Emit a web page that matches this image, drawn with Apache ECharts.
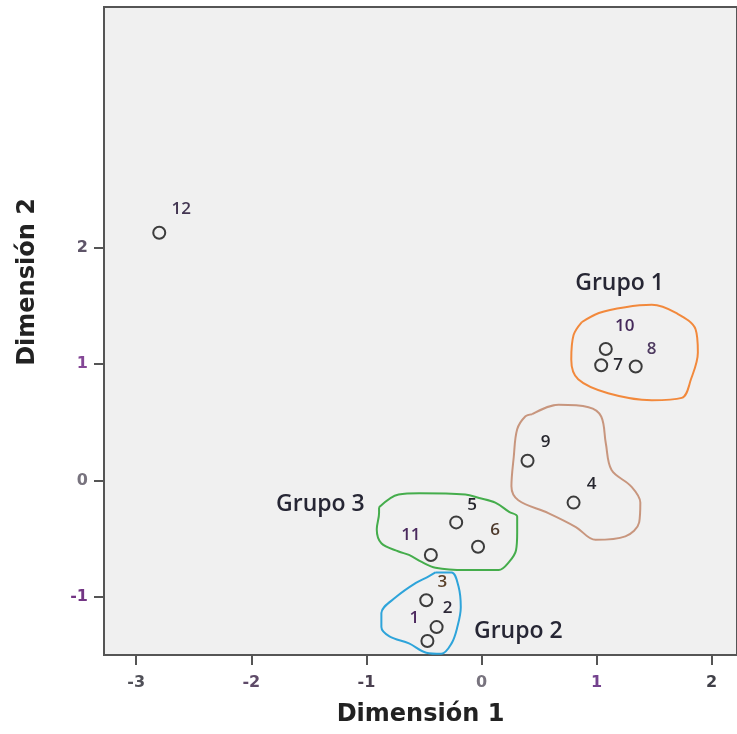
<!DOCTYPE html>
<html>
<head>
<meta charset="utf-8">
<script src="https://cdn.jsdelivr.net/npm/echarts@6/dist/echarts.min.js"></script>
<style>html,body{margin:0;padding:0;background:#fff}#main{width:737px;height:734px}</style>
</head>
<body>
<div id="main"></div>
<script>
// puntos (coordenadas en dimensión 1 / dimensión 2)
var pointNames = ['1', '2', '3', '4', '5', '6', '7', '8', '9', '10', '11', '12'];
var dim1 = [-0.47, -0.39, -0.48, 0.80, -0.22, -0.03, 1.04, 1.34, 0.40, 1.08, -0.44, -2.80];
var dim2 = [-1.38, -1.26, -1.03, -0.19, -0.36, -0.57, 0.99, 0.98, 0.17, 1.13, -0.64, 2.13];

// marcas de los ejes
var xTicks = [-3, -2, -1, 0, 1, 2];
var yTicks = [-1, 0, 1, 2];

// contornos de los grupos (dibujados a mano en el original)
var grupo1Outline = [[0.87, 1.36], [1.02, 1.44], [1.25, 1.49], [1.48, 1.51], [1.69, 1.44], [1.86, 1.30], [1.88, 1.10],
  [1.82, 0.87], [1.74, 0.71], [1.48, 0.69], [1.10, 0.75], [0.84, 0.87], [0.78, 1.04], [0.80, 1.25], [0.87, 1.36]];
var grupo4Outline = [[0.44, 0.57], [0.67, 0.65], [0.93, 0.63], [1.04, 0.55], [1.08, 0.32], [1.13, 0.09], [1.30, -0.05],
  [1.38, -0.19], [1.37, -0.36], [1.25, -0.48], [0.99, -0.51], [0.82, -0.40], [0.58, -0.28], [0.32, -0.17], [0.26, -0.05],
  [0.28, 0.20], [0.31, 0.44], [0.38, 0.55], [0.44, 0.57]];
var grupo3Outline = [[-0.89, -0.23], [-0.72, -0.12], [-0.54, -0.11], [-0.14, -0.12], [-0.02, -0.15], [0.12, -0.19],
  [0.24, -0.27], [0.31, -0.31], [0.31, -0.45], [0.30, -0.60], [0.24, -0.70], [0.15, -0.77], [-0.14, -0.77],
  [-0.40, -0.75], [-0.52, -0.70], [-0.63, -0.64], [-0.72, -0.61], [-0.87, -0.54], [-0.91, -0.42], [-0.89, -0.28], [-0.89, -0.23]];
var grupo2Outline = [[-0.40, -0.79], [-0.26, -0.79], [-0.20, -0.91], [-0.18, -1.09], [-0.21, -1.26], [-0.26, -1.40],
  [-0.35, -1.49], [-0.48, -1.48], [-0.63, -1.40], [-0.80, -1.34], [-0.87, -1.26], [-0.87, -1.14], [-0.74, -1.00],
  [-0.57, -0.88], [-0.47, -0.83], [-0.40, -0.79]];

var groupNames = ['Grupo 1', 'Grupo 2', 'Grupo 3'];
var groupX = [1.20, 0.32, -1.40];
var groupY = [1.69, -1.30, -0.21];

// desplazamiento de cada etiqueta respecto a su punto (px)
var labelOffsets = [[-13, -23], [11, -19], [16, -18], [18, -18], [16, -17], [17, -17], [17, 0], [16, -17],
  [18, -19], [19, -23], [-20, -20], [22, -24]];
var labelColors = ['#4e2a60', '#2d2838', '#5a4028', '#26262e', '#26262e', '#4e3a2c', '#26262e', '#4e3a60',
  '#26262e', '#44285a', '#4a2a5e', '#433652'];

var xLabelColors = { '-3': '#505058', '-2': '#5e4a68', '-1': '#4a4050', '0': '#78737e', '1': '#74428e', '2': '#404048' };
var yLabelColors = { '-1': '#733584', '0': '#78737e', '1': '#844796', '2': '#5e5468' };

var chart = echarts.init(document.getElementById('main'));

var pointData = pointNames.map(function (n, i) {
  return {
    name: n,
    value: [dim1[i], dim2[i]],
    label: { offset: labelOffsets[i], color: labelColors[i] }
  };
});

function outline(data, color) {
  return {
    type: 'line',
    data: data,
    smooth: 0.35,
    showSymbol: false,
    silent: true,
    lineStyle: { color: color, width: 2 },
    z: 2
  };
}

var option = {
  animation: false,
  backgroundColor: '#ffffff',
  grid: {
    left: 104, top: 7, right: -2, bottom: 79,
    show: true, backgroundColor: '#f0f0f0', borderColor: '#555', borderWidth: 2
  },
  xAxis: {
    type: 'value', min: -3.28, max: 2.22,
    name: 'Dimensión 1', nameLocation: 'middle', nameGap: 48,
    nameTextStyle: { fontFamily: 'DejaVu Sans', fontWeight: 'bold', fontSize: 24, color: '#222' },
    axisLine: { show: true, onZero: false, lineStyle: { color: '#555', width: 2 } },
    axisTick: { show: true, length: 10, customValues: xTicks, lineStyle: { color: '#555', width: 2 } },
    axisLabel: {
      customValues: xTicks, margin: 20, fontFamily: 'DejaVu Sans', fontWeight: 'bold', fontSize: 16,
      color: function (v) { return xLabelColors[String(v)] || '#555'; }
    },
    splitLine: { show: false }
  },
  yAxis: {
    type: 'value', min: -1.5, max: 4.07,
    name: 'Dimensión 2', nameLocation: 'middle', nameGap: 64,
    nameTextStyle: { fontFamily: 'DejaVu Sans', fontWeight: 'bold', fontSize: 24, color: '#222', padding: [0, 0, 0, 98] },
    axisLine: { show: true, onZero: false, lineStyle: { color: '#555', width: 2 } },
    axisTick: { show: true, length: 10, customValues: yTicks, lineStyle: { color: '#555', width: 2 } },
    axisLabel: {
      customValues: yTicks, margin: 16, fontFamily: 'DejaVu Sans', fontWeight: 'bold', fontSize: 16,
      color: function (v) { return yLabelColors[String(v)] || '#555'; }
    },
    splitLine: { show: false }
  },
  series: [
    outline(grupo1Outline, '#f2893c'),
    outline(grupo4Outline, '#c8967e'),
    outline(grupo3Outline, '#45ad4c'),
    outline(grupo2Outline, '#2ea4da'),
    {
      type: 'scatter',
      data: pointData,
      symbol: 'circle',
      symbolSize: 12,
      itemStyle: { color: 'rgba(0,0,0,0)', borderColor: '#3c3c3c', borderWidth: 2, opacity: 1 },
      label: {
        show: true, position: 'inside', formatter: '{b}',
        fontFamily: 'Open Sans', fontWeight: 600, fontSize: 17
      },
      z: 5
    },
    {
      type: 'scatter',
      data: groupNames.map(function (n, i) { return { name: n, value: [groupX[i], groupY[i]] }; }),
      symbolSize: 0,
      itemStyle: { opacity: 1 },
      label: {
        show: true, position: 'inside', formatter: '{b}',
        fontFamily: 'Open Sans', fontWeight: 600, fontSize: 23, color: '#262634'
      },
      z: 6
    }
  ]
};

chart.setOption(option);
</script>
</body>
</html>
